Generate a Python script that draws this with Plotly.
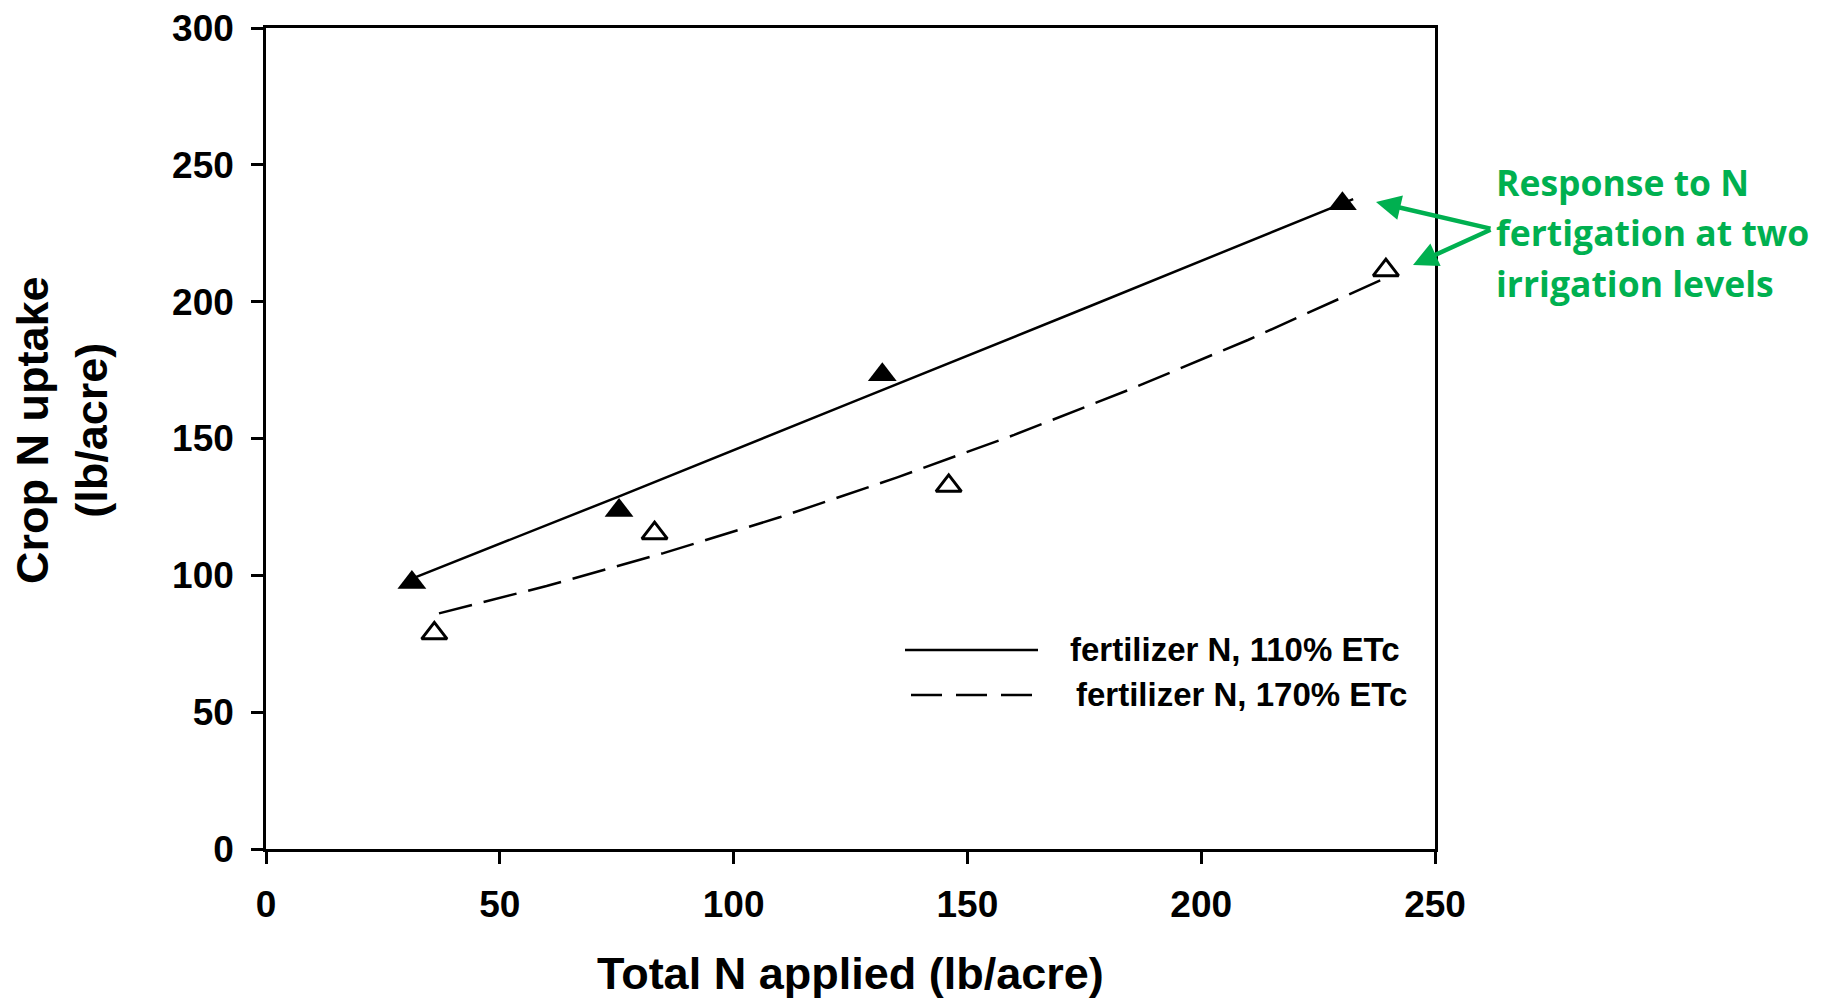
import plotly.graph_objects as go

# ---- data ----
x_110_pts = [31.2, 75.5, 131.8, 230.2]
y_110_pts = [97.4, 123.7, 173.3, 235.8]
x_170_pts = [36.0, 83.1, 146.0, 239.5]
y_170_pts = [78.8, 115.4, 132.7, 211.5]

x_110_fit = [31.5, 56.5, 75.0, 125.0, 150.6, 175.0, 232.5]
y_110_fit = [99.0, 115.8, 128.5, 163.0, 180.6, 197.5, 237.5]
x_170_fit = [37.0, 60.0, 85.0, 110.0, 135.0, 160.0, 185.0, 210.0, 240.5]
y_170_fit = [86.1, 96.1, 108.1, 121.3, 135.8, 151.3, 168.1, 186.0, 209.5]

legend_labels = ["fertilizer N, 110% ETc", "fertilizer N, 170% ETc"]
note_lines = ["Response to N", "fertigation at two", "irrigation levels"]
x_title = "Total N applied (lb/acre)"
y_title = "Crop N uptake<br>(lb/acre)"

x_ticks = [0, 50, 100, 150, 200, 250]
y_ticks = [0, 50, 100, 150, 200, 250, 300]

OFF = 8  # default page body margin
W, H = 1824 - 2 * OFF, 1008 - 2 * OFF
# plot area in page pixels
L, R, T, B = 266, 1435, 28, 849
GREEN = "#00B050"
FONT = "Liberation Sans, Arial, sans-serif"

fig = go.Figure()
fig.add_trace(go.Scatter(x=x_110_fit, y=y_110_fit, mode="lines", name=legend_labels[0],
                         line=dict(color="black", width=2.5), showlegend=False))
fig.add_trace(go.Scatter(x=x_170_fit, y=y_170_fit, mode="lines", name=legend_labels[1],
                         line=dict(color="black", width=2.5, dash="34px,12px"), showlegend=False))
fig.add_trace(go.Scatter(x=x_110_pts, y=y_110_pts, mode="markers", showlegend=False,
                         marker=dict(symbol="triangle-up", size=25, color="black",
                                     line=dict(width=0))))
fig.add_trace(go.Scatter(x=x_170_pts, y=y_170_pts, mode="markers", showlegend=False,
                         marker=dict(symbol="triangle-up-open", size=22, color="black",
                                     line=dict(width=3, color="black"))))

def pxp(px):
    return (px - L) / (R - L)

def pyp(py):
    return (B - py) / (B - T)

# axis titles (placed as annotations for exact positioning)
fig.add_annotation(xref="paper", yref="paper", x=pxp((L + R) / 2), y=pyp(973),
                   text=x_title, showarrow=False, xanchor="center", yanchor="middle",
                   font=dict(family=FONT, size=45, color="black", weight="bold"))
fig.add_annotation(xref="paper", yref="paper", x=pxp(62), y=pyp(430),
                   text=y_title, showarrow=False, textangle=-90,
                   xanchor="center", yanchor="middle",
                   font=dict(family=FONT, size=45, color="black", weight="bold"))

# manual legend (lines + labels)
leg_rows = [(905, 1038, 650, "solid", 1068, 649.5),
            (911, 1032, 695, "31px,14px", 1074, 694.5)]
for (x0, x1, yy, dash, tx, ty), lab in zip(leg_rows, legend_labels):
    fig.add_shape(type="line", xref="paper", yref="paper", x0=pxp(x0), x1=pxp(x1),
                  y0=pyp(yy), y1=pyp(yy), line=dict(color="black", width=2.5, dash=dash))
    fig.add_annotation(xref="paper", yref="paper", x=pxp(tx), y=pyp(ty), text=lab,
                       showarrow=False, xanchor="left", yanchor="middle",
                       font=dict(family=FONT, size=33, color="black", weight="bold"))

# green note with arrows
for i, line in enumerate(note_lines):
    fig.add_annotation(xref="paper", yref="paper", x=pxp(1494), y=pyp(182 + i * 50.5),
                       text=line, showarrow=False, xanchor="left", yanchor="middle",
                       font=dict(family="Open Sans, sans-serif", size=35.5, color=GREEN,
                                 weight="bold"))
TX, TY = 1492, 229
for hx, hy in [(1376, 202), (1413, 265)]:
    fig.add_annotation(xref="paper", yref="paper", x=pxp(hx), y=pyp(hy), text="",
                       axref="pixel", ayref="pixel", ax=TX - hx, ay=TY - hy,
                       showarrow=True, arrowhead=2, arrowsize=1.1, arrowwidth=4.5,
                       arrowcolor=GREEN)

axis_common = dict(showline=True, linecolor="black", linewidth=2.5, mirror=True,
                   ticks="outside", ticklen=12, tickwidth=2.5, tickcolor="black",
                   showgrid=False, zeroline=False, ticklabeloverflow="allow",
                   automargin=False,
                   tickfont=dict(family=FONT, size=37, color="black", weight="bold"))

fig.update_xaxes(range=[0, 250], tickvals=x_ticks, ticktext=[str(v) for v in x_ticks],
                 ticklabelstandoff=9, **axis_common)
fig.update_yaxes(range=[0, 300], tickvals=y_ticks, ticktext=[str(v) for v in y_ticks],
                 ticklabelstandoff=10, **axis_common)

fig.update_layout(width=W, height=H, autosize=False,
                  margin=dict(l=L - OFF, r=W - (R - OFF), t=T - OFF, b=H - (B - OFF), pad=0),
                  plot_bgcolor="white", paper_bgcolor="white", showlegend=False)

fig.write_html("out.html")
